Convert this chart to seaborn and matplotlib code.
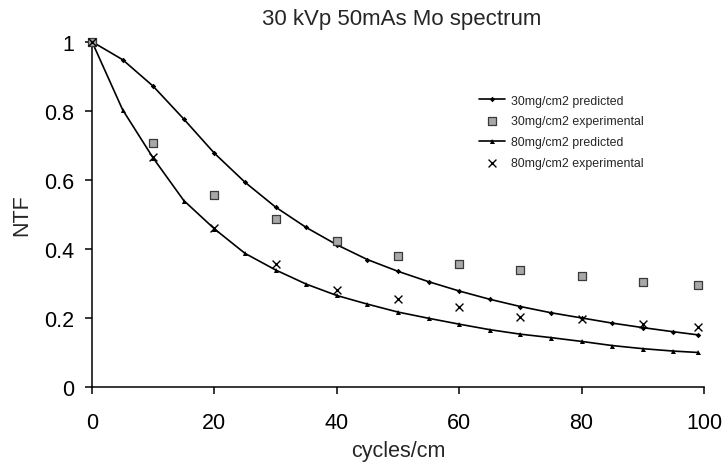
import matplotlib
matplotlib.use("Agg")
import matplotlib.pyplot as plt
import seaborn as sns
import pandas as pd

# ---- data ----
x_pred = [0, 5, 10, 15, 20, 25, 30, 35, 40, 45, 50, 55, 60, 65, 70, 75, 80, 85, 90, 95, 99]
pred_30 = [1.0, 0.948, 0.871, 0.776, 0.677, 0.593, 0.521, 0.462, 0.412, 0.369, 0.335,
           0.305, 0.278, 0.254, 0.233, 0.215, 0.200, 0.185, 0.172, 0.160, 0.151]
pred_80 = [1.0, 0.803, 0.663, 0.540, 0.458, 0.387, 0.339, 0.298, 0.265, 0.240, 0.217,
           0.199, 0.182, 0.166, 0.153, 0.143, 0.132, 0.120, 0.111, 0.104, 0.100]

x_exp = [0, 10, 20, 30, 40, 50, 60, 70, 80, 90, 99]
exp_30 = [1.0, 0.706, 0.555, 0.487, 0.422, 0.380, 0.356, 0.340, 0.322, 0.303, 0.295]
exp_80 = [1.0, 0.665, 0.460, 0.357, 0.282, 0.255, 0.231, 0.203, 0.198, 0.183, 0.173]

series_labels = ["30mg/cm2 predicted", "30mg/cm2 experimental",
                 "80mg/cm2 predicted", "80mg/cm2 experimental"]
title = "30 kVp 50mAs Mo spectrum"
x_label = "cycles/cm"
y_label = "NTF"
x_ticks = [0, 20, 40, 60, 80, 100]
x_tick_labels = ["0", "20", "40", "60", "80", "100"]
y_ticks = [0, 0.2, 0.4, 0.6, 0.8, 1.0]
y_tick_labels = ["0", "0.2", "0.4", "0.6", "0.8", "1"]

pred_df = pd.DataFrame({"x": x_pred, "p30": pred_30, "p80": pred_80})
exp_df = pd.DataFrame({"x": x_exp, "e30": exp_30, "e80": exp_80})

# ---- style ----
sns.set_style("ticks")
plt.rcParams["font.family"] = ["Liberation Sans", "DejaVu Sans"]

fig = plt.figure(figsize=(7.24, 4.64), dpi=100)
ax = fig.add_axes([92 / 724, 76 / 464, 612 / 724, 345.3 / 464])

sns.lineplot(data=pred_df, x="x", y="p30", ax=ax, color="black", linewidth=1.2,
             marker="D", markersize=2.8, markeredgewidth=0, label=series_labels[0],
             clip_on=False, zorder=3)
sns.scatterplot(data=exp_df, x="x", y="e30", ax=ax, marker="s", s=30,
                color="#a8a8a8", edgecolor="#3a3a3a", linewidth=0.9,
                label=series_labels[1], clip_on=False, zorder=4)
sns.lineplot(data=pred_df, x="x", y="p80", ax=ax, color="black", linewidth=1.2,
             marker="^", markersize=3.6, markeredgewidth=0, label=series_labels[2],
             clip_on=False, zorder=3)
sns.scatterplot(data=exp_df, x="x", y="e80", ax=ax, marker="x", s=32,
                color="black", linewidth=1.0,
                label=series_labels[3], clip_on=False, zorder=4)

ax.set_xlim(0, 100)
ax.set_ylim(0, 1)
ax.set_xticks(x_ticks)
ax.set_xticklabels(x_tick_labels)
ax.set_yticks(y_ticks)
ax.set_yticklabels(y_tick_labels)

sns.despine(ax=ax)
for sp in ("left", "bottom"):
    ax.spines[sp].set_linewidth(1.1)
    ax.spines[sp].set_color("black")

ax.tick_params(axis="both", direction="out", length=5, width=1.1, colors="black",
               labelsize=15.5)
ax.tick_params(axis="y", pad=8)
ax.tick_params(axis="x", pad=13)

ax.set_xlabel(x_label, fontsize=15.5)
ax.set_ylabel(y_label, fontsize=15.5)
ax.xaxis.label.set_va("center")
ax.xaxis.set_label_coords(0.5, -0.183)
ax.yaxis.label.set_va("center")
ax.yaxis.set_label_coords(-0.115, 0.5)

fig.text(402 / 724, 1 - 19 / 464, title, ha="center", va="center", fontsize=16)

ax.legend(loc="upper left", bbox_to_anchor=(0.633, 0.847), frameon=False,
          fontsize=8.9, handlelength=2.1, handletextpad=0.45, labelspacing=0.72,
          borderpad=0, borderaxespad=0, numpoints=1, scatterpoints=1)

fig.savefig("out.png", dpi=100)
